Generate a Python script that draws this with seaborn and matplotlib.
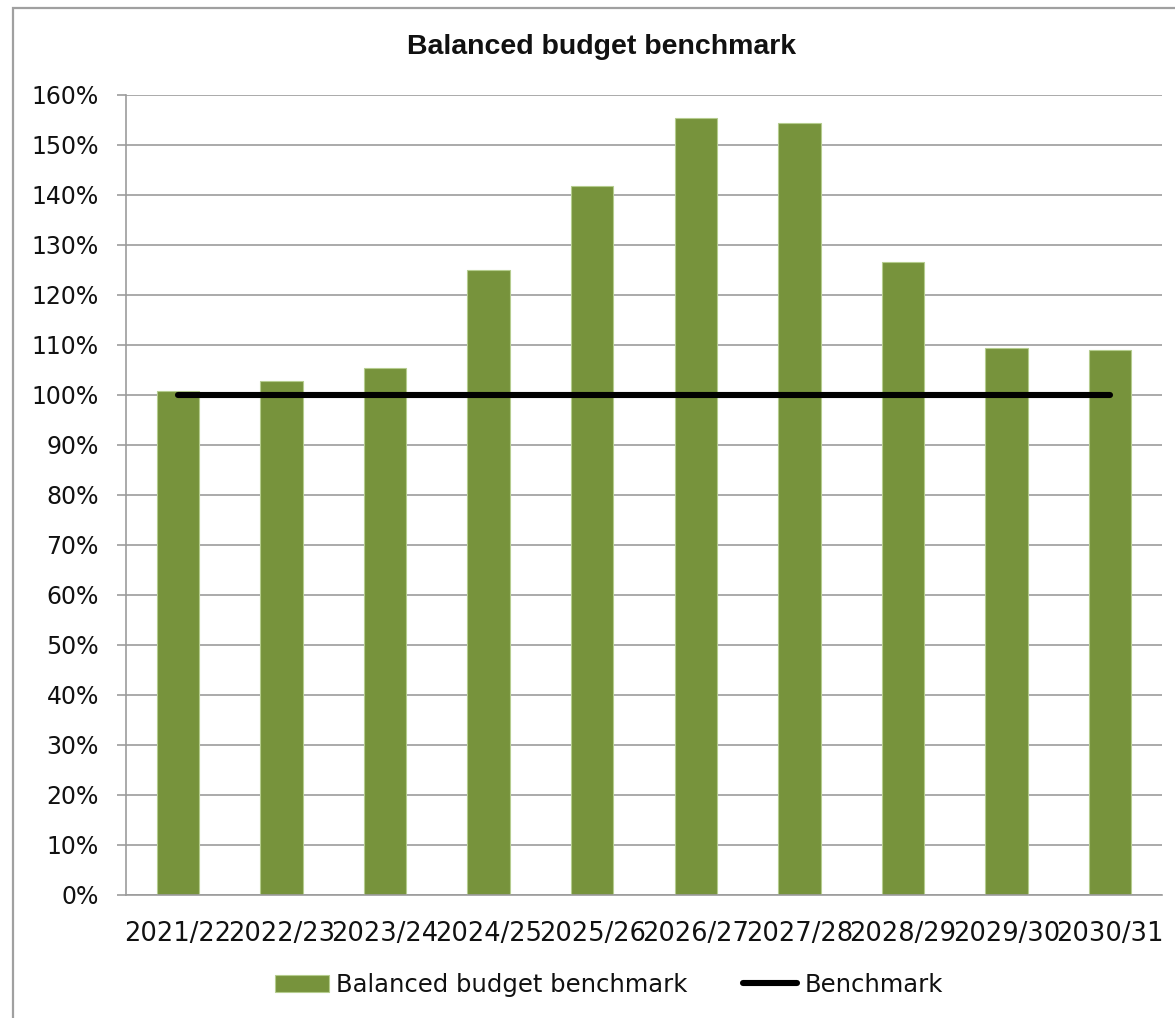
import matplotlib
matplotlib.use("Agg")
import matplotlib.pyplot as plt
import matplotlib.patches as mpatches
from matplotlib.lines import Line2D
from matplotlib.ticker import PercentFormatter, FixedLocator
import numpy as np
import pandas as pd
import seaborn as sns

# Financial years
years = ["2021/22", "2022/23", "2023/24", "2024/25", "2025/26",
         "2026/27", "2027/28", "2028/29", "2029/30", "2030/31"]
# Balanced budget ratio (%)
budget_ratio = [100.8, 102.8, 105.5, 125.0, 141.9, 155.5, 154.4, 126.7, 109.5, 109.1]
# Benchmark level (%)
benchmark = [100, 100, 100, 100, 100, 100, 100, 100, 100, 100]

BAR_COLOR = "#77933C"
GRID_COLOR = "#9c9c9c"

sns.set_style("white")
plt.rcParams["font.family"] = ["DejaVu Sans"]

W, H = 1175, 1018
fig = plt.figure(figsize=(W / 100, H / 100), dpi=100)
ax = fig.add_axes([126 / W, 1 - 895 / H, (1162 - 126) / W, (895 - 95) / H])

df = pd.DataFrame({"year": years, "ratio": budget_ratio})
sns.barplot(data=df, x="year", y="ratio", color=BAR_COLOR, saturation=1,
            width=0.41, edgecolor="#b5cc8e", linewidth=0.8, ax=ax, zorder=2)
sns.lineplot(x=np.arange(len(years)), y=benchmark, color="black", linewidth=4.4,
             solid_capstyle="round", ax=ax, zorder=3)

ax.set_xlim(-0.5, len(years) - 0.5)
ax.set_ylim(0, 160)
ax.set_yticks(np.arange(0, 161, 10))
ax.yaxis.set_major_formatter(PercentFormatter(100, decimals=0))
ax.grid(axis="y", color=GRID_COLOR, linewidth=1.2, zorder=0)
ax.set_axisbelow(True)
ax.set_xlabel("")
ax.set_ylabel("")

for side in ["top", "right"]:
    ax.spines[side].set_visible(False)
for side in ["left", "bottom"]:
    ax.spines[side].set_color(GRID_COLOR)
    ax.spines[side].set_linewidth(1.2)

# category boundary ticks on the x axis
ax.xaxis.set_minor_locator(FixedLocator(np.arange(-0.5, len(years), 1.0)))
ax.tick_params(axis="x", which="minor", length=7.5, width=1.2, color=GRID_COLOR, direction="out")
ax.tick_params(axis="x", which="major", length=0, pad=19, labelsize=18.5, labelcolor="#111111")
ax.tick_params(axis="y", which="major", left=True, length=6.5, width=1.2, color=GRID_COLOR,
               direction="out", pad=13, labelsize=17, labelcolor="#111111")

fig.text(602 / W, 1 - 47 / H, "Balanced budget benchmark",
         family=["Liberation Sans", "DejaVu Sans"],
         fontweight="bold", fontsize=20.5, ha="center", va="center", color="#111111")

handles = [mpatches.Patch(facecolor=BAR_COLOR, edgecolor="#b5cc8e", linewidth=0.8),
           Line2D([0], [0], color="black", linewidth=4.4, solid_capstyle="round")]
fig.legend(handles, ["Balanced budget benchmark", "Benchmark"],
           loc="center", bbox_to_anchor=(609 / W, 1 - 985 / H), ncol=2,
           frameon=False, fontsize=17.5, handlelength=2.2, handleheight=0.75,
           columnspacing=2.3, handletextpad=0.3, labelcolor="#111111")

# chart-area border
fig.patches.append(mpatches.Rectangle((13 / W, -0.1), 1.2, (H - 8) / H + 0.1,
                                      transform=fig.transFigure, fill=False,
                                      edgecolor="#a0a0a0", linewidth=1.6))

fig.savefig("out.png", dpi=100)
